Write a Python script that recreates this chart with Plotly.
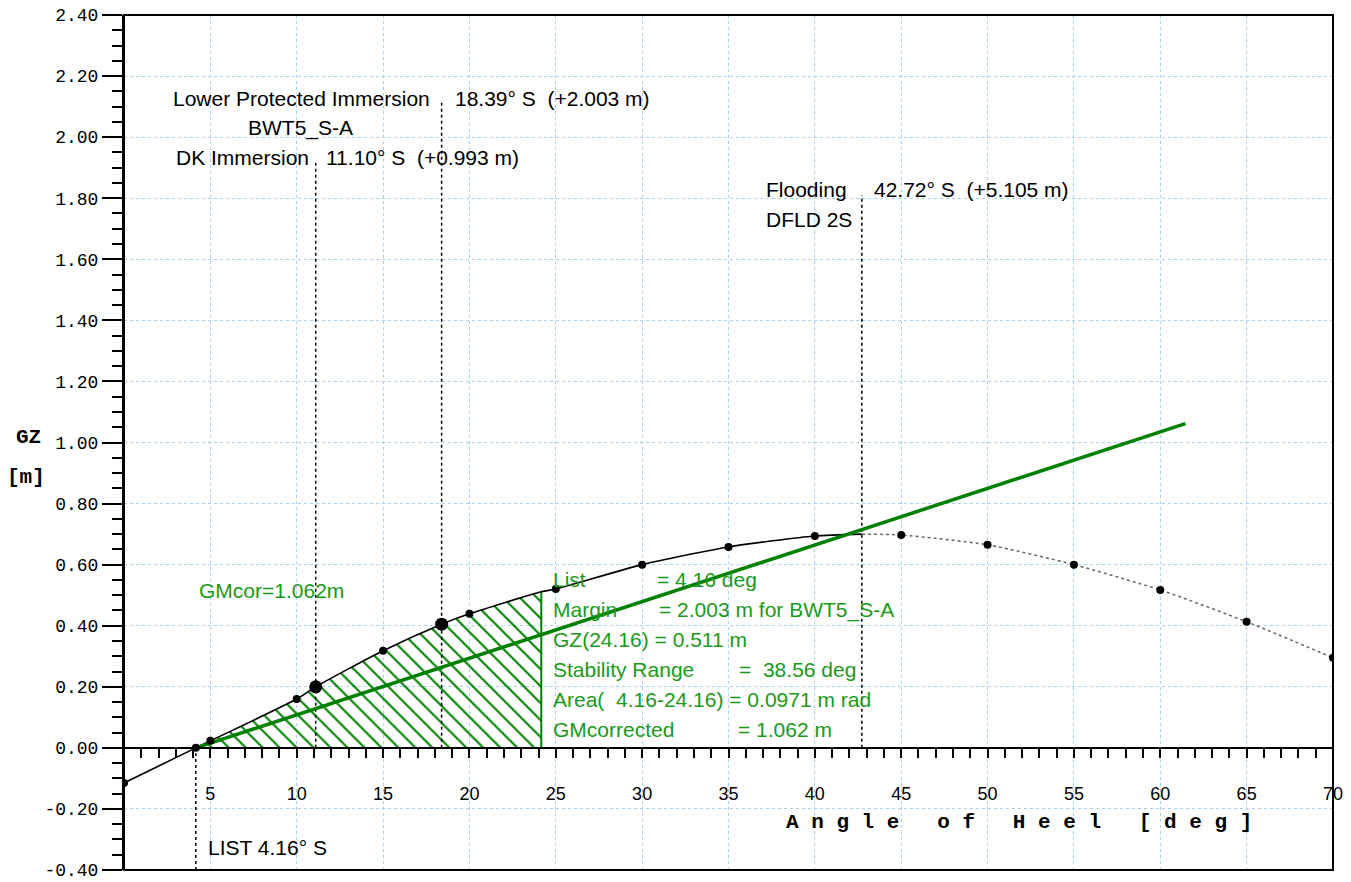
import plotly.graph_objects as go

# ---------------- data ----------------
heel = [0, 5, 10, 15, 20, 25, 30, 35, 40, 45, 50, 55, 60, 65, 70]
gz = [-0.115, 0.023, 0.160, 0.318, 0.439, 0.520, 0.600, 0.658, 0.694,
      0.697, 0.665, 0.600, 0.517, 0.413, 0.295]

list_angle = 4.16
dk_angle, dk_gz = 11.10, 0.200
lpi_angle, lpi_gz = 18.39, 0.405
flood_angle, flood_gz = 42.72, 0.700
area_end, gz_area_end = 24.16, 0.511
gm_cor = 1.062

x_tick_vals = [5, 10, 15, 20, 25, 30, 35, 40, 45, 50, 55, 60, 65, 70]
x_tick_text = ["5", "10", "15", "20", "25", "30", "35", "40", "45", "50", "55", "60", "65", "70"]
y_tick_vals = [-0.4, -0.2, 0.0, 0.2, 0.4, 0.6, 0.8, 1.0, 1.2, 1.4, 1.6, 1.8, 2.0, 2.2, 2.4]
y_tick_text = ["-0.40", "-0.20", "0.00", "0.20", "0.40", "0.60", "0.80", "1.00",
               "1.20", "1.40", "1.60", "1.80", "2.00", "2.20", "2.40"]

NB = "\u00a0"
green_rows = [
    ("List", "= 4.16 deg"),
    ("Margin", "= 2.003 m for BWT5_S-A"),
    ("GZ(24.16) = 0.511 m", ""),
    ("Stability Range", "=" + NB * 2 + "38.56 deg"),
    ("Area(" + NB * 2 + "4.16-24.16) = 0.0971 m rad", ""),
    ("GMcorrected", "= 1.062 m"),
]

# ---------------- build curve ----------------
pts = sorted(list(zip(heel, gz)) + [(list_angle, 0.0), (dk_angle, dk_gz),
                                     (lpi_angle, lpi_gz), (area_end, gz_area_end),
                                     (flood_angle, flood_gz)])
solid = [p for p in pts if p[0] <= flood_angle]
dotted = [p for p in pts if p[0] >= flood_angle]
area = [p for p in pts if list_angle <= p[0] <= area_end]

GREEN = "#008000"
TGREEN = "#1a9a1a"
GRID = "#a8d0f5"

fig = go.Figure()

# hatched area
fig.add_trace(go.Scatter(
    x=[p[0] for p in area], y=[p[1] for p in area], mode="lines",
    line=dict(width=0, shape="spline", smoothing=0.6), fill="tozeroy",
    fillcolor="rgba(0,0,0,0)",
    fillpattern=dict(shape="\\", fgcolor=GREEN, bgcolor="rgba(0,0,0,0)",
                     size=12, solidity=0.17, fgopacity=1),
    hoverinfo="skip", showlegend=False))
# vertical area limit
fig.add_trace(go.Scatter(x=[area_end, area_end], y=[0, gz_area_end], mode="lines",
                         line=dict(color=GREEN, width=2), showlegend=False))

# vertical marker lines (dotted)
marker_lines = [
    (list_angle, -0.40, 0.0),
    (dk_angle, 0.0, 1.915),
    (lpi_angle, 0.0, 2.115),
    (flood_angle, 0.0, 1.81),
]
for xa, y0, y1 in marker_lines:
    fig.add_trace(go.Scatter(x=[xa, xa], y=[y0, y1], mode="lines",
                             line=dict(color="black", width=1.5, dash="dot"),
                             showlegend=False))

# GZ curve
fig.add_trace(go.Scatter(x=[p[0] for p in solid], y=[p[1] for p in solid], mode="lines",
                         line=dict(color="black", width=1.6, shape="spline", smoothing=0.6),
                         showlegend=False))
fig.add_trace(go.Scatter(x=[p[0] for p in dotted], y=[p[1] for p in dotted], mode="lines",
                         line=dict(color="#666666", width=1.5, dash="dot", shape="spline",
                                   smoothing=0.6),
                         showlegend=False))

# GM line
fig.add_trace(go.Scatter(x=[list_angle, list_angle + 57.2958], y=[0, gm_cor], mode="lines",
                         line=dict(color=GREEN, width=3.5), showlegend=False))

# dots
fig.add_trace(go.Scatter(x=heel + [list_angle], y=gz + [0.0], mode="markers",
                         marker=dict(color="black", size=8), showlegend=False))
fig.add_trace(go.Scatter(x=[dk_angle, lpi_angle], y=[dk_gz, lpi_gz], mode="markers",
                         marker=dict(color="black", size=13), showlegend=False))

ann = []
F = dict(family="Liberation Sans", size=21, color="black")
ann.append(dict(x=lpi_angle, y=2.128, xshift=-10, text="Lower Protected Immersion",
                xanchor="right", font=F))
ann.append(dict(x=lpi_angle, y=2.128, xshift=11, text="18.39° S" + NB * 2 + "(+2.003 m)",
                xanchor="left", font=F))
ann.append(dict(x=10.19, y=2.03, text="BWT5_S-A", xanchor="center", font=F))
ann.append(dict(x=dk_angle, y=1.932, xshift=-5, text="DK Immersion", xanchor="right", font=F))
ann.append(dict(x=dk_angle, y=1.932, xshift=8, text="11.10° S" + NB * 2 + "(+0.993 m)",
                xanchor="left", font=F))
ann.append(dict(x=37.06, y=1.827, text="Flooding", xanchor="left", font=F))
ann.append(dict(x=flood_angle, y=1.827, xshift=10, text="42.72° S" + NB * 2 + "(+5.105 m)",
                xanchor="left", font=F))
ann.append(dict(x=37.06, y=1.729, text="DFLD 2S", xanchor="left", font=F))
ann.append(dict(x=list_angle, y=-0.327, xshift=10, text="LIST 4.16° S", xanchor="left", font=F))

FG = dict(family="Liberation Sans", size=21, color=TGREEN)
ann.append(dict(x=4.23, y=0.514, text="GMcor=1.062m", xanchor="left", font=FG))
row_y = [0.550, 0.452, 0.354, 0.255, 0.157, 0.059]
row_shift = [114, 116, 0, 196, 0, 195]
for (left, right), yy, sh in zip(green_rows, row_y, row_shift):
    ann.append(dict(x=area_end, y=yy, xshift=10, text=left, xanchor="left", font=FG))
    if right:
        ann.append(dict(x=area_end, y=yy, xshift=sh, text=right, xanchor="left", font=FG))

# axis titles
title_txt = (NB * 3).join(NB.join(list(w)) for w in ["Angle", "of", "Heel", "[deg]"])
ann.append(dict(x=51.8, y=-0.246, text="<b>" + title_txt + "</b>", xanchor="center",
                font=dict(family="Liberation Mono", size=21, color="black")))
ann.append(dict(xref="paper", x=0, xshift=-96, y=1.018, text="<b>GZ</b>", xanchor="center",
                font=dict(family="Liberation Mono", size=21, color="black")))
ann.append(dict(xref="paper", x=0, xshift=-98, y=0.884, text="<b>[m]</b>", xanchor="center",
                font=dict(family="Liberation Mono", size=21, color="black")))
for a in ann:
    a.setdefault("xref", "x")
    a.setdefault("yref", "y")
    a["showarrow"] = False
    a.setdefault("yanchor", "middle")

fig.update_layout(
    width=1351, height=882,
    margin=dict(l=124, r=18, t=15, b=12, pad=0, autoexpand=False),
    paper_bgcolor="white", plot_bgcolor="white",
    font=dict(family="Liberation Sans", color="black"),
    showlegend=False,
    annotations=ann,
    xaxis=dict(range=[0, 70], anchor="free", position=0.4 / 2.8, automargin=False,
               showline=True, linecolor="black", linewidth=2,
               ticks="outside", ticklen=9, tickwidth=2, tickcolor="black",
               tickmode="array", tickvals=x_tick_vals, ticktext=x_tick_text,
               ticklabelstandoff=21,
               tickfont=dict(family="Liberation Sans", size=18, color="black"),
               showgrid=True, gridcolor=GRID, griddash="dot", gridwidth=1,
               zeroline=False,
               minor=dict(dtick=1, tick0=0, ticks="outside", ticklen=9, tickwidth=2,
                          tickcolor="black", showgrid=False)),
    yaxis=dict(range=[-0.4, 2.4], automargin=False, showline=True, linecolor="black", linewidth=2,
               ticks="outside", ticklen=20, tickwidth=2, tickcolor="black",
               tickmode="array", tickvals=y_tick_vals, ticktext=y_tick_text,
               tickfont=dict(family="Liberation Mono", size=18, color="black"),
               showgrid=True, gridcolor=GRID, griddash="dot", gridwidth=1,
               zeroline=False,
               minor=dict(dtick=0.05, tick0=-0.4, ticks="outside", ticklen=10, tickwidth=2,
                          tickcolor="black", showgrid=False)),
    shapes=[dict(type="rect", xref="paper", yref="paper", x0=0, x1=1, y0=0, y1=1,
                 line=dict(color="black", width=2), layer="above")],
)

fig.write_html("out.html", config={"displayModeBar": False},
               post_script="document.body.style.margin='0';")
